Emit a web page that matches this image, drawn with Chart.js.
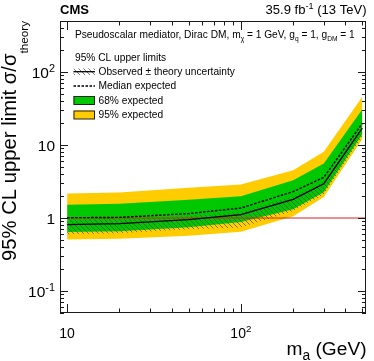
<!DOCTYPE html>
<html><head><meta charset="utf-8">
<script src="https://cdn.jsdelivr.net/npm/chart.js@4"></script>
<style>html,body{margin:0;padding:0;background:#fff}#c{display:block}</style>
</head><body>
<canvas id="c" width="374" height="361"></canvas>
<script>
// ---- data ----
const massPoints    = [10, 20, 50, 100, 200, 300, 500];
const observed      = [0.81, 0.84, 0.95, 1.11, 1.80, 2.95, 17.1];
const obsTheoryUp   = [0.95, 0.97, 1.07, 1.22, 1.98, 3.20, 18.3];
const obsTheoryDown = [0.60, 0.62, 0.70, 0.74, 1.25, 2.10, 12.7];
const expected      = [1.01, 1.02, 1.15, 1.37, 2.30, 3.60, 19.8];
const exp68Up       = [1.52, 1.57, 1.78, 1.98, 3.30, 5.60, 31.0];
const exp68Down     = [0.645, 0.66, 0.75, 0.88, 1.32, 2.26, 14.1];
const exp95Up       = [2.17, 2.24, 2.60, 2.88, 4.50, 8.10, 46.0];
const exp95Down     = [0.507, 0.52, 0.57, 0.65, 1.06, 1.94, 12.1];
const referenceLevel = 1;
const xAxisMin = 9.1, xAxisMax = 525;
const yAxisMin = 0.05, yAxisMax = 500;
const yTickValues = [0.1, 1, 10, 100];
const yTickLabels = [['10','-1'], ['1',''], ['10',''], ['10','2']];
const xTickValues = [10, 100];
const xTickLabels = [['10',''], ['10','2']];

const FONT = '"Liberation Sans", Arial, Helvetica, sans-serif';
const GREEN = 'rgb(0,200,0)';
const YELLOW = 'rgb(255,204,0)';

const canvas = document.getElementById('c');
const mainCtx = canvas.getContext('2d');

function makeHatch() {
  const n = 5;
  const c = document.createElement('canvas'); c.width = n; c.height = n;
  const g = c.getContext('2d');
  g.strokeStyle = 'rgba(80,80,80,0.75)'; g.lineWidth = 1;
  g.beginPath();
  g.moveTo(-1,-1); g.lineTo(n+1,n+1);
  g.moveTo(-1,n-1); g.lineTo(1,n+1);
  g.moveTo(n-1,-1); g.lineTo(n+1,1);
  g.stroke();
  return mainCtx.createPattern(c, 'repeat');
}
const hatch = makeHatch();

function pts(arr) { return massPoints.map((m, i) => ({x: m, y: arr[i]})); }
const band = (data, color, fill, order) => ({
  data: pts(data), borderColor: 'rgba(0,0,0,0)', borderWidth: 0, pointRadius: 0,
  backgroundColor: color, fill: fill, order: order, tension: 0
});

// ---- rich text helpers ----
function fnt(size, bold) { return (bold ? 'bold ' : '') + size + 'px ' + FONT; }
function richWidth(ctx, parts, size, o) {
  let w = 0;
  for (const p of parts) {
    const s = p.k ? size * (p.k === 'sub' ? o.subScale : o.supScale) : size;
    ctx.font = fnt(s, o.bold); w += ctx.measureText(p.t).width;
  }
  return w;
}
function drawRich(ctx, x, y, parts, size, o) {
  o = Object.assign({subScale:0.7, supScale:0.7, subDrop:0.3, supRaise:0.42, align:'left', bold:false}, o);
  const w = richWidth(ctx, parts, size, o);
  let cx = o.align === 'right' ? x - w : (o.align === 'center' ? x - w/2 : x);
  ctx.textAlign = 'left'; ctx.textBaseline = 'alphabetic';
  for (const p of parts) {
    let s = size, dy = 0;
    if (p.k === 'sub') { s = size * o.subScale; dy = size * o.subDrop; }
    if (p.k === 'sup') { s = size * o.supScale; dy = -size * o.supRaise; }
    ctx.font = fnt(s, o.bold);
    ctx.fillText(p.t, cx, y + dy);
    cx += ctx.measureText(p.t).width;
  }
  return w;
}
function fitSize(ctx, parts, target, o) {
  o = Object.assign({subScale:0.7, supScale:0.7, bold:false}, o);
  return 100 * target / richWidth(ctx, parts, 100, o);
}

const decor = {
  id: 'decor',
  beforeDraw(chart) {
    const ctx = chart.ctx;
    ctx.save(); ctx.fillStyle = '#fff'; ctx.fillRect(0, 0, chart.width, chart.height); ctx.restore();
  },
  afterDraw(chart) {
    const ctx = chart.ctx, a = chart.chartArea;
    const xs = chart.scales.x, ys = chart.scales.y;
    ctx.save();
    ctx.strokeStyle = '#1a1a1a'; ctx.lineWidth = 1;
    // frame
    ctx.strokeRect(Math.round(a.left) + 0.5, Math.round(a.top) + 0.5,
                   Math.round(a.right - a.left) - 1, Math.round(a.bottom - a.top) - 1);
    // ticks
    ctx.beginPath();
    for (let d = -3; d <= 3; d++) {
      for (let k = 1; k <= 9; k++) {
        const v = k * Math.pow(10, d);
        if (v >= yAxisMin * 0.999 && v <= yAxisMax * 1.001) {
          const py = Math.round(ys.getPixelForValue(v)) + 0.5;
          const len = k === 1 ? 8 : 4;
          ctx.moveTo(a.left, py); ctx.lineTo(a.left + len, py);
          ctx.moveTo(a.right, py); ctx.lineTo(a.right - len, py);
        }
        if (v >= xAxisMin && v <= xAxisMax) {
          const px = Math.round(xs.getPixelForValue(v)) + 0.5;
          const len = k === 1 ? 9 : 4.5;
          ctx.moveTo(px, a.bottom); ctx.lineTo(px, a.bottom - len);
          ctx.moveTo(px, a.top); ctx.lineTo(px, a.top + len);
        }
      }
    }
    ctx.stroke();

    ctx.fillStyle = '#000';
    // y tick labels
    yTickValues.forEach((v, i) => {
      const [base, sup] = yTickLabels[i];
      const parts = [{t: base}]; if (sup) parts.push({t: sup, k: 'sup'});
      drawRich(ctx, a.left - 5, ys.getPixelForValue(v) + 6, parts, 15.5, {align: 'right'});
    });
    // x tick labels
    xTickValues.forEach((v, i) => {
      const [base, sup] = xTickLabels[i];
      const parts = [{t: base}]; if (sup) parts.push({t: sup, k: 'sup'});
      drawRich(ctx, xs.getPixelForValue(v), 337.5, parts, 14, {align: 'center'});
    });

    // axis titles
    const xt = [{t:'m'}, {t:'a', k:'sub'}, {t:' (GeV)'}];
    const xo = {subScale: 0.72, subDrop: 0.27};
    const xsz = fitSize(ctx, xt, 80, xo);
    drawRich(ctx, a.right + 0.5, 355, xt, xsz, Object.assign({align:'right'}, xo));

    const yt = [{t:'95% CL upper limit \u03c3/\u03c3'}, {t:'theory', k:'sub'}];
    const yo = {subScale: 0.58, subDrop: 0.6};
    const ysz = fitSize(ctx, yt, 240, yo);
    ctx.save(); ctx.translate(15.5, a.top); ctx.rotate(-Math.PI / 2);
    drawRich(ctx, 0, 0, yt, ysz, Object.assign({align:'right'}, yo));
    ctx.restore();

    // CMS and lumi
    const cms = [{t:'CMS'}];
    drawRich(ctx, a.left, 14, cms, fitSize(ctx, cms, 29, {bold:true}), {bold:true});
    const lumi = [{t:'35.9 fb'}, {t:'-1', k:'sup'}, {t:' (13 TeV)'}];
    drawRich(ctx, a.right + 0.5, 14, lumi, fitSize(ctx, lumi, 101, {}), {align:'right'});

    // legend header
    const hdr = [{t:'Pseudoscalar mediator, Dirac DM, m'}, {t:'\u03c7', k:'sub'}, {t:' = 1 GeV, g'},
                 {t:'q', k:'sub'}, {t:' = 1, g'}, {t:'DM', k:'sub'}, {t:' = 1'}];
    const ho = {subScale: 0.65, subDrop: 0.3};
    drawRich(ctx, 75, 37.5, hdr, fitSize(ctx, hdr, 280, ho), ho);
    const LF = 10.2;
    drawRich(ctx, 75, 60.5, [{t:'95% CL upper limits'}], LF, {});
    const ix0 = 73.5, ix1 = 95, tx = 98.5;
    // observed entry
    ctx.fillStyle = hatch; ctx.fillRect(ix0, 68.5, ix1 - ix0, 6.5);
    ctx.strokeStyle = '#000'; ctx.lineWidth = 1.3;
    ctx.beginPath(); ctx.moveTo(ix0, 71.7); ctx.lineTo(ix1, 71.7); ctx.stroke();
    ctx.fillStyle = '#000';
    drawRich(ctx, tx, 74.5, [{t:'Observed \u00b1 theory uncertainty'}], LF, {});
    // median
    ctx.setLineDash([2.5, 1.5]); ctx.lineWidth = 1.4;
    ctx.beginPath(); ctx.moveTo(ix0, 86); ctx.lineTo(ix1, 86); ctx.stroke();
    ctx.setLineDash([]);
    drawRich(ctx, tx, 89, [{t:'Median expected'}], LF, {});
    // 68%
    ctx.lineWidth = 1;
    ctx.fillStyle = GREEN; ctx.fillRect(ix0, 96, ix1 - ix0, 8.5);
    ctx.strokeStyle = '#222'; ctx.strokeRect(ix0 + 0.5, 96.5, ix1 - ix0 - 1, 8);
    ctx.fillStyle = '#000';
    drawRich(ctx, tx, 103.5, [{t:'68% expected'}], LF, {});
    // 95%
    ctx.fillStyle = YELLOW; ctx.fillRect(ix0, 110.5, ix1 - ix0, 8.5);
    ctx.strokeRect(ix0 + 0.5, 111, ix1 - ix0 - 1, 8);
    ctx.fillStyle = '#000';
    drawRich(ctx, tx, 118, [{t:'95% expected'}], LF, {});
    ctx.restore();
  }
};

new Chart(canvas, {
  type: 'line',
  data: {
    datasets: [
      {data: pts(observed), borderColor: '#000', borderWidth: 1.3, pointRadius: 0, fill: false, order: 1, tension: 0},
      {data: pts(expected), borderColor: '#000', borderWidth: 1.4, borderDash: [2.5, 1.5], pointRadius: 0, fill: false, order: 2, tension: 0},
      {data: [{x: massPoints[0], y: referenceLevel}, {x: xAxisMax, y: referenceLevel}], borderColor: 'rgb(215,35,35)', borderWidth: 1, pointRadius: 0, fill: false, order: 3},
      band(obsTheoryUp, hatch, '+1', 4),
      band(obsTheoryDown, 'rgba(0,0,0,0)', false, 4),
      band(exp68Up, GREEN, '+1', 5),
      band(exp68Down, 'rgba(0,0,0,0)', false, 5),
      band(exp95Up, YELLOW, '+1', 6),
      band(exp95Down, 'rgba(0,0,0,0)', false, 6)
    ]
  },
  options: {
    responsive: false, animation: false, events: [], devicePixelRatio: 1,
    layout: {padding: {left: 60, right: 8, top: 21, bottom: 48}},
    plugins: {legend: {display: false}, tooltip: {enabled: false}, filler: {propagate: false}},
    scales: {
      x: {type: 'logarithmic', min: xAxisMin, max: xAxisMax, display: false},
      y: {type: 'logarithmic', min: yAxisMin, max: yAxisMax, display: false}
    }
  },
  plugins: [decor]
});
</script>
</body></html>
